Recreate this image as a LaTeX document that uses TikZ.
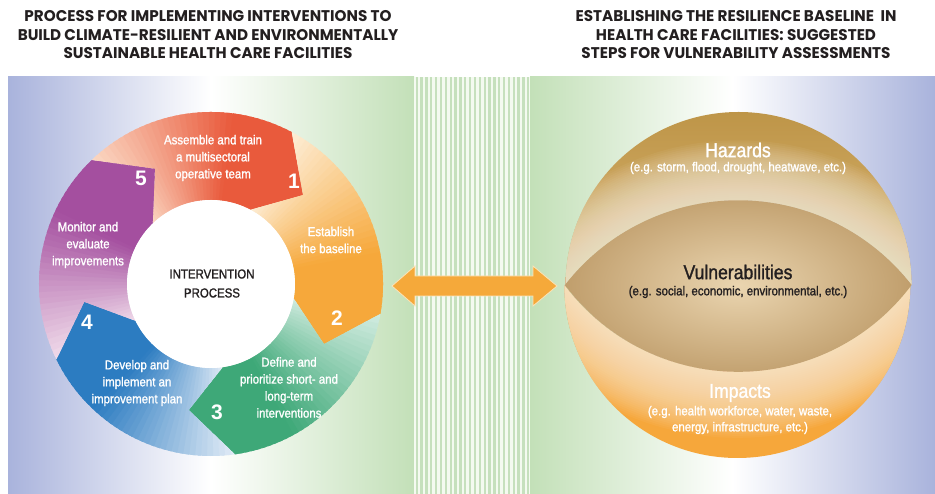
\documentclass[tikz,border=0pt]{standalone}
\usepackage{fontspec}
\setmainfont{Liberation Sans}
\newfontfamily\condfont[FakeStretch=0.88,FakeBold=1.3]{Liberation Sans}
\newfontfamily\headfont[FakeStretch=0.98]{Poppins}

\definecolor{bgblue}{HTML}{A9B3DC}
\definecolor{bggreen}{HTML}{C3E0B8}
\definecolor{stripebg}{HTML}{F4FAF0}
\definecolor{stripe}{HTML}{C6E0BD}
\definecolor{segA}{HTML}{E95A3C}
\definecolor{segAlt}{HTML}{FCE2CE}
\definecolor{segB}{HTML}{F6A83B}
\definecolor{segBlt}{HTML}{FEF3E2}
\definecolor{segC}{HTML}{3EA878}
\definecolor{segClt}{HTML}{DDF1E8}
\definecolor{segD}{HTML}{2C7CC1}
\definecolor{segDlt}{HTML}{EEF3FA}
\definecolor{segE}{HTML}{A44F9F}
\definecolor{segElt}{HTML}{F6E6F0}
\definecolor{ink}{HTML}{231F20}
\definecolor{hazTop}{HTML}{BE9548}
\definecolor{hazBot}{HTML}{D9B673}
\definecolor{hazGlow}{HTML}{F8EEDC}
\definecolor{lensIn}{HTML}{EAD5B0}
\definecolor{lensOut}{HTML}{C09E6C}
\definecolor{impBase}{HTML}{F6A73B}
\definecolor{impGlow}{HTML}{FEF1DC}
\definecolor{arrowfill}{HTML}{F5A93A}
\definecolor{arrowedge}{HTML}{FBE3B8}

% one step of the cycle: ring sector from #1 to #2 (clockwise),
% notched at its start and pointed at its end, shaded from #4 to #3
\newcommand\ringseg[4]{%
  \begin{scope}
    \clip (#1:172) arc[start angle=#1,end angle=#2,radius=172]
      -- (#2-18:128) -- (#2:84)
      arc[start angle=#2,end angle=#1,radius=84]
      -- (#1-18:128) -- cycle;
    \foreach \i in {0,...,45}{%
      \pgfmathsetmacro\ang{#1-2*\i}%
      \pgfmathtruncatemacro\mix{min(100,8+130*\i/36)}%
      \fill[#3!\mix!#4] (0,0) -- (\ang+0.7:186)
        arc[start angle=\ang+0.7,end angle=\ang-2.5,radius=186] -- cycle;
    }
  \end{scope}}

\tikzset{
  lbl/.style={text=white, font=\condfont\fontsize{13}{17}\selectfont, align=center, inner sep=0pt},
  num/.style={text=white, font=\bfseries\fontsize{21}{21}\selectfont, inner sep=0pt},
  head/.style={text=ink, font=\headfont\bfseries\fontsize{15.5}{18.5}\selectfont, align=center, inner sep=0pt},
  title/.style={font=\condfont\fontsize{20}{22}\selectfont, inner sep=0pt},
  note/.style={font=\condfont\fontsize{13}{16}\selectfont, align=center, inner sep=0pt},
}

\begin{document}
\begin{tikzpicture}[x=1pt,y=1pt]
\useasboundingbox (0,0) rectangle (935,494);
\fill[white] (0,0) rectangle (935,494);

% background panels and the striped divider
\shade[left color=bgblue, right color=bggreen, middle color=white] (8,0) rectangle (414,417);
\fill[stripebg] (414,0) rectangle (530,417);
\foreach \k in {0,...,23} \fill[stripe] (415.6+\k*4.85,0) rectangle ++(2.3,417);
\shade[left color=bggreen, right color=bgblue, middle color=white] (530,0) rectangle (935,417);

% intervention cycle
\begin{scope}[shift={(211,210)}]
  \ringseg{134}{62}{segA}{segAlt}
  \ringseg{62}{-10}{segB}{segBlt}
  \ringseg{-10}{-82}{segC}{segClt}
  \ringseg{-82}{-154}{segD}{segDlt}
  \ringseg{-154}{-226}{segE}{segElt}
  \fill[white] (0,0) circle[radius=84];
\end{scope}

\node[text=ink, font=\condfont\fontsize{13}{19}\selectfont, align=center, inner sep=0pt] (center) at (212,210.5) {INTERVENTION\\PROCESS};

\node[lbl] (step1) at (213,336) {Assemble and train\\a multisectoral\\operative team};
\node[num] (n1) at (294,313) {1};
\node[lbl] (step2) at (331,254) {Establish\\the baseline};
\node[num] (n2) at (337,176) {2};
\node[lbl] (step3) at (289,106.5) {Define and\\prioritize short- and\\long-term\\interventions};
\node[num] (n3) at (217,82) {3};
\node[lbl] (step4) at (137,111) {Develop and\\implement an\\improvement plan};
\node[num] (n4) at (87,172) {4};
\node[lbl] (step5) at (88,249) {Monitor and\\evaluate\\improvements};
\node[num] (n5) at (141,316) {5};

% resilience baseline: hazards, vulnerabilities, impacts
\begin{scope}[shift={(738,209)}]
  \def\hazpath{(-173,0) arc[start angle=142.1,end angle=37.9,radius=219.6]
     arc[start angle=0,end angle=180,radius=173] -- cycle}
  \def\imppath{(173,0) arc[start angle=-36.8,end angle=-143.2,radius=216.5]
     arc[start angle=180,end angle=360,radius=173] -- cycle}
  \shade[top color=hazTop, bottom color=hazBot] \hazpath;
  \begin{scope}
    \clip \hazpath;
    \foreach \w in {4,8,...,120}
      \draw[hazGlow, line width=\w, opacity=0.05] (-173,0) arc[start angle=142.1,end angle=37.9,radius=219.6];
  \end{scope}
  \fill[impBase] \imppath;
  \begin{scope}
    \clip \imppath;
    \foreach \w in {4,8,...,132}
      \draw[impGlow, line width=\w, opacity=0.05] (173,0) arc[start angle=-36.8,end angle=-143.2,radius=216.5];
  \end{scope}
  \shade[inner color=lensIn, outer color=lensOut]
    (-173,0) arc[start angle=142.1,end angle=37.9,radius=219.6]
    arc[start angle=-36.8,end angle=-143.2,radius=216.5] -- cycle;
\end{scope}

\node[title, text=white] (haz) at (738,344) {Hazards};
\node[note, text=white] (hazx) at (738,326) {(e.g. storm, flood, drought, heatwave, etc.)};
\node[title, text=ink] (vul) at (738,222) {Vulnerabilities};
\node[note, text=ink] (vulx) at (738,202) {(e.g. social, economic, environmental, etc.)};
\node[title, text=white] (imp) at (740,101) {Impacts};
\node[note, text=white] (impx) at (740,74) {(e.g. health workforce, water, waste,\\energy, infrastructure, etc.)};

% two-way link between the process and the baseline
\fill[arrowfill, draw=arrowedge, line width=0.8pt]
  (392,208) -- (415,228) -- (415,218) -- (533,218) -- (533,228) -- (557,208)
  -- (533,188) -- (533,198) -- (415,198) -- (415,188) -- cycle;

% headings
\node[head] (lefthead) at (208,459) {PROCESS FOR IMPLEMENTING INTERVENTIONS TO\\BUILD CLIMATE-RESILIENT AND ENVIRONMENTALLY\\SUSTAINABLE HEALTH CARE FACILITIES};
\node[head] (righthead) at (736,459) {ESTABLISHING THE RESILIENCE BASELINE~~IN\\HEALTH CARE FACILITIES: SUGGESTED\\STEPS FOR VULNERABILITY ASSESSMENTS};
\end{tikzpicture}
\end{document}
